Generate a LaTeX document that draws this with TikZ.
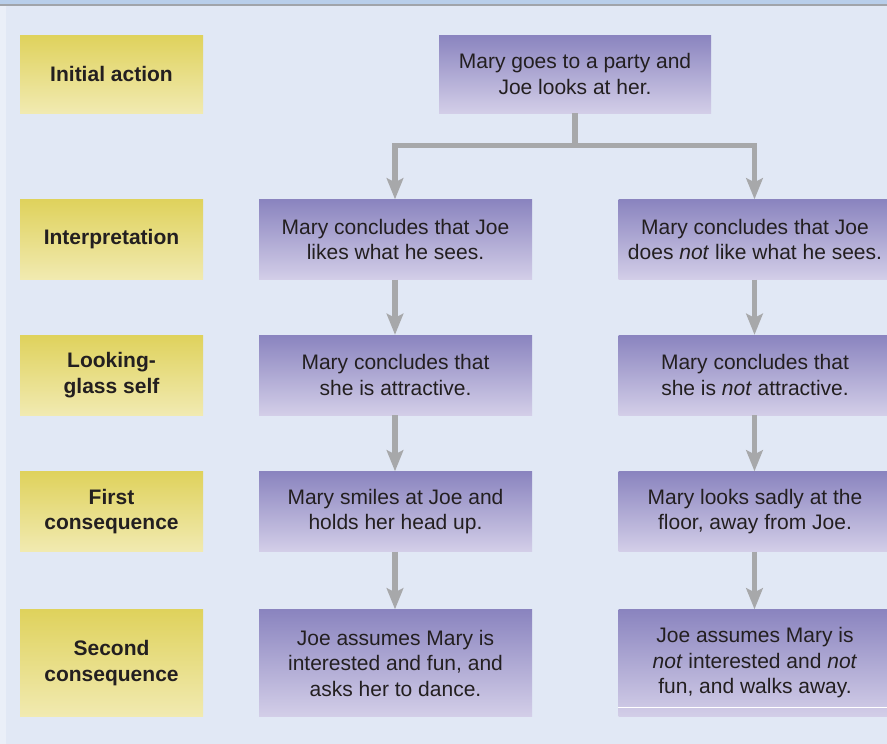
\documentclass[tikz,border=0pt]{standalone}
\usepackage{fontspec}
\setmainfont{Liberation Sans}
\usetikzlibrary{arrows.meta}

\definecolor{pagebg}{HTML}{E1E8F5}
\definecolor{bandblue}{HTML}{B8CEEA}
\definecolor{edgegray}{HTML}{A0A4AA}
\definecolor{stripbg}{HTML}{EAEFF8}
\definecolor{purpletop}{HTML}{8A84BF}
\definecolor{purplebot}{HTML}{D3CEE8}
\definecolor{yellowtop}{HTML}{DFD25C}
\definecolor{yellowbot}{HTML}{F1EAB1}
\definecolor{arrowgray}{HTML}{A7A8AA}
\definecolor{inktext}{HTML}{231F20}

\begin{document}
\begin{tikzpicture}[x=1pt,y=-1pt,
    rowlabel/.style={draw=none, top color=yellowtop, bottom color=yellowbot,
        minimum width=183pt, inner sep=0pt, align=center, text=inktext,
        font=\fontsize{21}{25.5}\selectfont\bfseries},
    stepbox/.style={draw=none, top color=purpletop, bottom color=purplebot,
        minimum width=273pt, inner sep=0pt, align=center, text=inktext,
        font=\fontsize{21}{25.5}\selectfont},
    flowline/.style={draw=arrowgray, line width=5.2pt},
    flow/.style={flowline, -{Stealth[length=21pt, width=16.5pt, inset=4pt]}}]

    \useasboundingbox (0,0) rectangle (887,744);

    % page background
    \fill[pagebg] (0,0) rectangle (887,744);
    \fill[stripbg] (0,5) rectangle (6,744);
    \fill[bandblue] (0,0) rectangle (887,5);
    \draw[edgegray, line width=1.2pt] (0,5) -- (887,5);

    % row labels
    \node[rowlabel, minimum height=78pt] (lab1) at (111.5,74) {Initial action};
    \node[rowlabel, minimum height=80pt] (lab2) at (111.5,239.5) {Interpretation};
    \node[rowlabel, minimum height=80pt] (lab3) at (111.5,375) {Looking-\\glass self};
    \node[rowlabel, minimum height=80pt] (lab4) at (111.5,511.5) {First\\consequence};
    \node[rowlabel, minimum height=107pt] (lab5) at (111.5,663) {Second\\consequence};

    % steps
    \node[stepbox, minimum width=272pt, minimum height=78pt] (party)
        at (575,74) {Mary goes to a party and\\Joe looks at her.};

    \node[stepbox, minimum height=80pt] (likes) at (395.5,239.5)
        {Mary concludes that Joe\\likes what he sees.};
    \node[stepbox, minimum height=80pt] (nolikes) at (755,239.5)
        {Mary concludes that Joe\\does \textit{not} like what he sees.};

    \node[stepbox, minimum height=80pt] (attr) at (395.5,375)
        {Mary concludes that\\she is attractive.};
    \node[stepbox, minimum height=80pt] (noattr) at (755,375)
        {Mary concludes that\\she is \textit{not} attractive.};

    \node[stepbox, minimum height=80pt] (smile) at (395.5,511.5)
        {Mary smiles at Joe and\\holds her head up.};
    \node[stepbox, minimum height=80pt] (sad) at (755,511.5)
        {Mary looks sadly at the\\floor, away from Joe.};

    \node[stepbox, minimum height=107pt] (dance) at (395.5,663)
        {Joe assumes Mary is\\interested and fun, and\\asks her to dance.};
    \node[stepbox, minimum height=107pt] (away) at (755,663)
        {Joe assumes Mary is\\\textit{not} interested and \textit{not}\\fun, and walks away.};
    \draw[white, line width=0.8pt] (away.west |- 0,707) -- (887,707);

    % split below the first box
    \coordinate (split) at (575,145.5);
    \draw[flowline] (party.south) -- (split);
    \draw[flow] (split) -| ([xshift=-0.5pt]likes.north);
    \draw[flow] (split) -| ([xshift=-0.5pt]nolikes.north);

    \foreach \a/\b in {likes/attr, attr/smile, smile/dance}{
        \draw[flow] ([xshift=-0.5pt]\a.south) -- ([xshift=-0.5pt]\b.north);
    }
    \foreach \a/\b in {nolikes/noattr, noattr/sad, sad/away}{
        \draw[flow] ([xshift=-0.5pt]\a.south) -- ([xshift=-0.5pt]\b.north);
    }

\end{tikzpicture}
\end{document}
